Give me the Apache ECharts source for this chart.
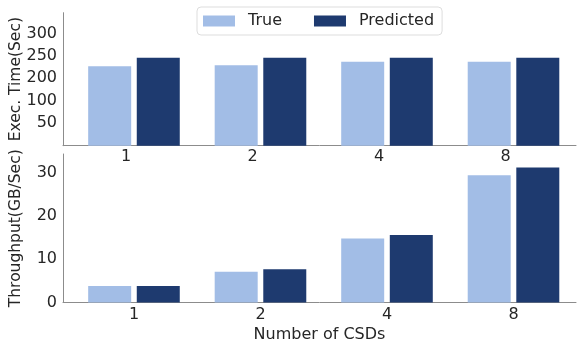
<!DOCTYPE html>
<html>
<head>
<meta charset="utf-8">
<script src="https://cdn.jsdelivr.net/npm/echarts@6/dist/echarts.min.js"></script>
<style>
html,body{margin:0;padding:0;background:#fff;}
#chart{width:580px;height:343px;}
</style>
</head>
<body>
<div id="chart"></div>
<script>
// Data
const categories = ['1', '2', '4', '8'];
const seriesNames = ['True', 'Predicted'];
// Top panel (execution time), in axis units of its evenly spaced ticks
const execTrue = [177, 179, 187, 187];
const execPred = [196, 196, 196, 196];
const execTickValues = [50, 100, 150, 200, 250];
const execTickLabels = ['50', '100', '200', '250', '300'];
// Bottom panel (throughput, GB/Sec)
const thrTrue = [3.8, 7.1, 14.8, 29.4];
const thrPred = [3.8, 7.7, 15.6, 31.2];
const thrTickValues = [0, 10, 20, 30];

const colors = ['#a2bde6', '#1e3a6f'];
const font = 'DejaVu Sans';
const textColor = '#262626';
const axisColor = '#8c8c8c';

const idx = categories.map((c, i) => i);
const pairs = arr => arr.map((v, i) => [idx[i], v]);

const chart = echarts.init(document.getElementById('chart'), null, {renderer: 'canvas'});

function xAxisCfg(gridIndex, top) {
  return {
    type: 'value', gridIndex: gridIndex,
    min: -0.561, max: 3.494,
    axisLine: {show: true, onZero: false, lineStyle: {color: axisColor, width: 1}},
    axisTick: {show: false},
    splitLine: {show: false},
    axisLabel: {
      customValues: idx,
      formatter: v => categories[Math.round(v)],
      fontFamily: font, fontSize: 16, color: textColor,
      margin: top ? 3 : 4,
      padding: top ? [0, 16, 0, 0] : 0
    },
    name: top ? '' : 'Number of CSDs',
    nameLocation: 'middle', nameGap: 24,
    nameMoveOverlap: false,
    nameTextStyle: {fontFamily: font, fontSize: 16, color: textColor}
  };
}

function yAxisCfg(gridIndex, name, max, ticks, labels) {
  return {
    type: 'value', gridIndex: gridIndex, min: 0, max: max,
    axisLine: {show: true, onZero: false, lineStyle: {color: axisColor, width: 1}},
    axisTick: {show: false},
    splitLine: {show: false},
    axisLabel: {
      customValues: ticks,
      formatter: v => labels ? labels[ticks.indexOf(v)] : String(v),
      fontFamily: font, fontSize: 16, color: textColor, margin: 6
    },
    name: name, nameLocation: 'middle', nameGap: 39,
    nameMoveOverlap: false,
    nameTextStyle: {fontFamily: font, fontSize: 15.5, color: textColor}
  };
}

const barCommon = {type: 'bar', barWidth: 43, barGap: '13%', animation: false};

chart.setOption({
  animation: false,
  color: colors,
  grid: [
    {left: 63, right: 4, top: 12.7, height: 133, outerBoundsMode: 'none', containLabel: false},
    {left: 63, right: 4, top: 154, height: 148.5, outerBoundsMode: 'none', containLabel: false}
  ],
  legend: {
    data: seriesNames,
    left: 197, top: 7,
    padding: [6, 8, 6, 6],
    icon: 'rect',
    itemWidth: 32, itemHeight: 11, itemGap: 32,
    borderColor: '#dddddd', borderWidth: 1, borderRadius: 4,
    backgroundColor: '#ffffff',
    textStyle: {fontFamily: font, fontSize: 16, color: textColor, padding: [0, 0, 0, 8]}
  },
  xAxis: [xAxisCfg(0, true), xAxisCfg(1, false)],
  yAxis: [
    yAxisCfg(0, 'Exec. Time(Sec)', 296, execTickValues, execTickLabels),
    yAxisCfg(1, 'Throughput(GB/Sec)', 34.3, thrTickValues, null)
  ],
  series: [
    Object.assign({}, barCommon, {name: 'True', xAxisIndex: 0, yAxisIndex: 0, data: pairs(execTrue)}),
    Object.assign({}, barCommon, {name: 'Predicted', xAxisIndex: 0, yAxisIndex: 0, data: pairs(execPred)}),
    Object.assign({}, barCommon, {name: 'True', xAxisIndex: 1, yAxisIndex: 1, data: pairs(thrTrue)}),
    Object.assign({}, barCommon, {name: 'Predicted', xAxisIndex: 1, yAxisIndex: 1, data: pairs(thrPred)})
  ]
});
</script>
</body>
</html>
